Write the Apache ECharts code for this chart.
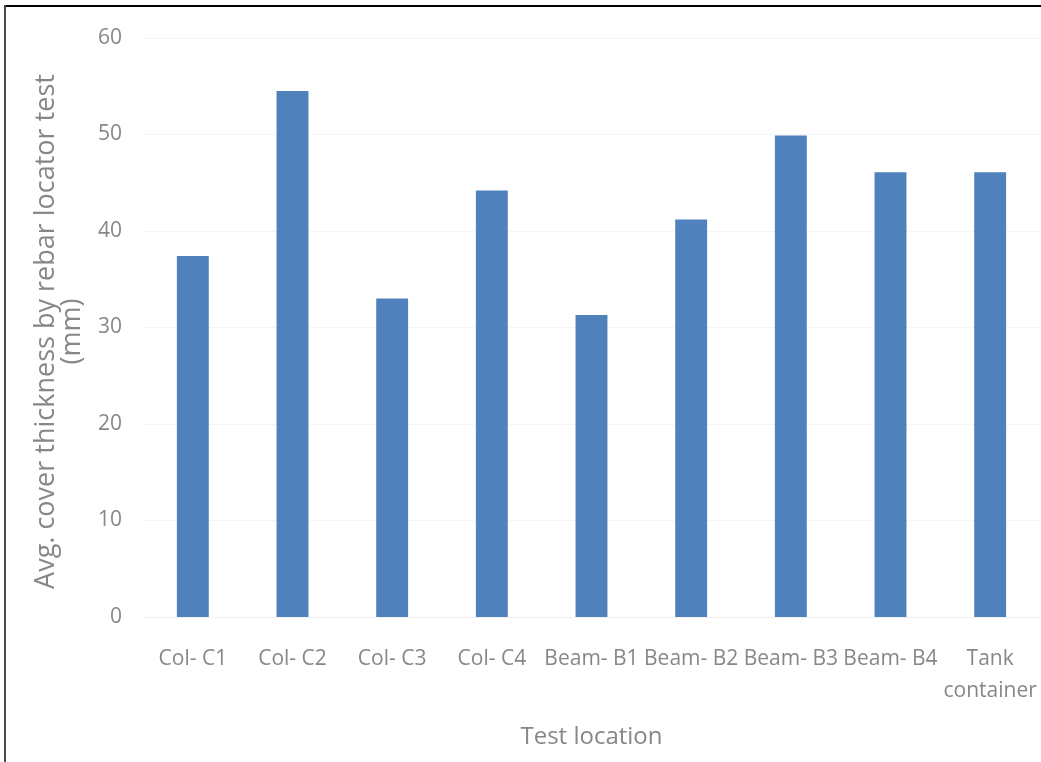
<!DOCTYPE html>
<html>
<head>
<meta charset="utf-8">
<script src="https://cdn.jsdelivr.net/npm/echarts@6/dist/echarts.min.js"></script>
<style>
  html, body { margin: 0; padding: 0; background: #fff; }
  #chart { width: 1041px; height: 762px; }
</style>
</head>
<body>
<div id="chart"></div>
<script>
// Test locations along the x axis
const locations = ['Col- C1', 'Col- C2', 'Col- C3', 'Col- C4', 'Beam- B1', 'Beam- B2', 'Beam- B3', 'Beam- B4', 'Tank\ncontainer'];
// Average cover thickness (mm) measured with the rebar locator
const coverThickness = [37.4, 54.5, 33.0, 44.2, 31.3, 41.2, 49.9, 46.1, 46.1];
// Value axis range
const yMin = 0;
const yMax = 60;
const yStep = 10;

const textGray = '#878787';
const fontFamily = '"Open Sans", "Noto Sans", sans-serif';

const chart = echarts.init(document.getElementById('chart'), null, { renderer: 'canvas' });
chart.setOption({
  animation: false,
  backgroundColor: '#ffffff',
  grid: { left: 143, right: 1, top: 38, bottom: 145, containLabel: false },
  xAxis: {
    type: 'category',
    data: locations,
    name: 'Test location',
    nameLocation: 'middle',
    nameGap: 108,
    nameTextStyle: { color: textGray, fontSize: 24, fontFamily: fontFamily },
    axisLine: { show: true, lineStyle: { color: '#f0f0f0', width: 1 } },
    axisTick: { show: false },
    axisLabel: {
      color: textGray, fontSize: 21, fontFamily: fontFamily,
      margin: 26, lineHeight: 32, interval: 0, align: 'center'
    }
  },
  yAxis: {
    type: 'value',
    min: yMin, max: yMax, interval: yStep,
    name: 'Avg. cover thickness by rebar locator test\n(mm)',
    nameLocation: 'middle',
    nameGap: 58,
    nameTextStyle: { color: textGray, fontSize: 27, fontFamily: fontFamily, lineHeight: 26, align: 'center', padding: [0, 8, 0, 0] },
    axisLine: { show: false },
    axisTick: { show: false },
    axisLabel: { color: textGray, fontSize: 21, fontFamily: fontFamily, margin: 21 },
    splitLine: { show: true, lineStyle: { color: '#f5f5f5', width: 1 } }
  },
  series: [{
    type: 'bar',
    data: coverThickness,
    barWidth: '32%',
    itemStyle: { color: '#4f81bd' }
  }],
  graphic: [
    { type: 'line', shape: { x1: 5, y1: 6, x2: 1041, y2: 6 }, style: { stroke: '#000', lineWidth: 2 } },
    { type: 'line', shape: { x1: 5, y1: 5, x2: 5, y2: 762 }, style: { stroke: '#4a4a4a', lineWidth: 2 } }
  ]
});
</script>
</body>
</html>
